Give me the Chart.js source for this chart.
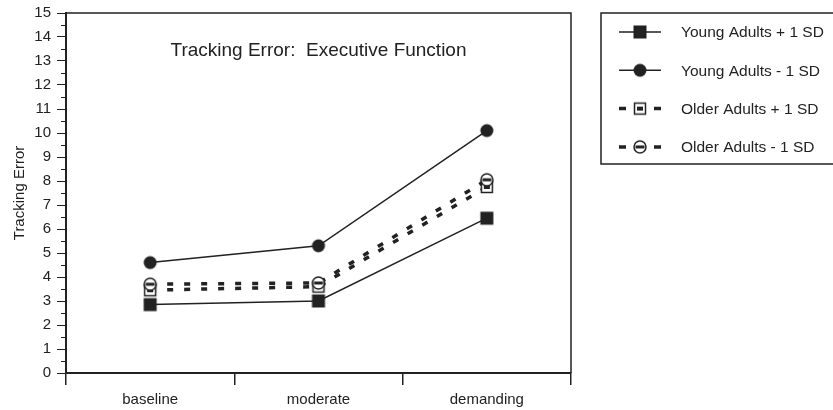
<!DOCTYPE html>
<html>
<head>
<meta charset="utf-8">
<script src="https://cdn.jsdelivr.net/npm/chart.js@4"></script>
<style>
  html, body { margin: 0; padding: 0; background: #fff; }
  #wrap { width: 833px; height: 410px; }
</style>
</head>
<body>
<div id="wrap"><canvas id="chart" width="833" height="410"></canvas></div>
<script>
// -----------------------
// DATA
// -----------------------
const categories = ['baseline', 'moderate', 'demanding'];
const seriesNames = ['Young Adults + 1 SD', 'Young Adults - 1 SD', 'Older Adults + 1 SD', 'Older Adults - 1 SD'];
const youngPlus = [2.85, 3.0, 6.45];
const youngMinus = [4.6, 5.3, 10.1];
const olderPlus = [3.45, 3.6, 7.75];
const olderMinus = [3.7, 3.75, 8.05];
const yTicks = [0, 1, 2, 3, 4, 5, 6, 7, 8, 9, 10, 11, 12, 13, 14, 15];

const INK = '#222';
const FONT = 'Arial, "Liberation Sans", sans-serif';

// -----------------------
// MARKERS
// -----------------------
function makeMarker(kind) {
    const s = 18;
    const c = document.createElement('canvas');
    c.width = s; c.height = s;
    const g = c.getContext('2d');
    const m = s / 2;
    g.fillStyle = INK;
    g.strokeStyle = INK;
    g.lineWidth = 1.5;
    if (kind === 'square') {
        g.fillRect(m - 6.5, m - 6.5, 13, 13);
    } else if (kind === 'circle') {
        g.beginPath(); g.arc(m, m, 6.5, 0, Math.PI * 2); g.fill();
    } else if (kind === 'boxDot') {
        g.fillStyle = '#fff';
        g.fillRect(m - 6, m - 6, 12, 12);
        g.strokeRect(m - 5.5, m - 5.5, 11, 11);
        g.fillStyle = INK;
        g.fillRect(m - 3, m - 2, 6, 4);
    } else if (kind === 'circleBar') {
        g.fillStyle = '#fff';
        g.beginPath(); g.arc(m, m, 6, 0, Math.PI * 2); g.fill(); g.stroke();
        g.fillStyle = INK;
        g.fillRect(m - 4.5, m - 1.5, 9, 3);
    }
    return c;
}

const markers = [makeMarker('square'), makeMarker('circle'), makeMarker('boxDot'), makeMarker('circleBar')];
const dashes = [[], [], [6, 11], [6, 11]];

// -----------------------
// PLUGINS
// -----------------------
const framePlugin = {
    id: 'frame',
    afterDraw(chart) {
        const ctx = chart.ctx;
        const a = chart.chartArea;
        const y = chart.scales.y;
        ctx.save();
        ctx.strokeStyle = INK;
        ctx.lineWidth = 1.5;
        ctx.beginPath();
        ctx.moveTo(a.left, a.top);
        ctx.lineTo(a.right, a.top);
        ctx.lineTo(a.right, a.bottom);
        ctx.stroke();

        // minor ticks on y
        ctx.lineWidth = 1;
        for (let i = 0; i < yTicks.length - 1; i++) {
            const py = Math.round(y.getPixelForValue(yTicks[i] + 0.5)) + 0.5;
            ctx.beginPath();
            ctx.moveTo(a.left - 5, py);
            ctx.lineTo(a.left, py);
            ctx.stroke();
        }

        // title inside plot
        ctx.fillStyle = INK;
        ctx.font = '19px ' + FONT;
        ctx.textAlign = 'center';
        ctx.textBaseline = 'middle';
        ctx.fillText('Tracking Error:  Executive Function', (a.left + a.right) / 2, 51);

        // legend
        const bx = 601, by = 13, bh = 151;
        ctx.lineWidth = 1.5;
        ctx.strokeRect(bx, by, 240, bh);
        ctx.font = '15.5px ' + FONT;
        ctx.textAlign = 'left';
        chart.data.datasets.forEach((ds, i) => {
            const ly = 32 + i * 38.3;
            ctx.save();
            ctx.lineWidth = ds.borderWidth;
            ctx.setLineDash(ds.borderDash.length ? [7, 28] : []);
            ctx.beginPath();
            ctx.moveTo(619, ly);
            ctx.lineTo(661, ly);
            ctx.stroke();
            ctx.restore();
            const img = ds.pointStyle;
            ctx.drawImage(img, 640 - img.width / 2, ly - img.height / 2);
            ctx.fillText(ds.label, 681, ly + 1);
        });
        ctx.restore();
    }
};

// -----------------------
// CHART
// -----------------------
const seriesData = [youngPlus, youngMinus, olderPlus, olderMinus];
const drawOrder = [0, 0, 2, 1];

const chart = new Chart(document.getElementById('chart'), {
    type: 'line',
    data: {
        labels: categories,
        datasets: seriesData.map((d, i) => ({
            label: seriesNames[i],
            data: d,
            borderColor: INK,
            borderWidth: i < 2 ? 1.5 : 3.5,
            borderDash: dashes[i],
            borderCapStyle: 'butt',
            pointStyle: markers[i],
            pointRadius: 7,
            tension: 0,
            fill: false,
            order: drawOrder[i]
        }))
    },
    options: {
        responsive: false,
        animation: false,
        layout: { padding: { left: 0, top: 13, right: 262, bottom: 0 } },
        plugins: {
            legend: { display: false },
            tooltip: { enabled: false },
            title: { display: false }
        },
        scales: {
            x: {
                type: 'category',
                offset: true,
                grid: { offset: true, drawOnChartArea: false, tickLength: 12, color: INK, lineWidth: 1.5 },
                border: { display: true, color: INK, width: 2 },
                ticks: { color: INK, font: { family: FONT, size: 15 }, padding: 6, maxRotation: 0 },
                afterFit(scale) { scale.height = 37; }
            },
            y: {
                min: 0,
                max: 15,
                grid: { drawOnChartArea: false, tickLength: 9, color: INK, lineWidth: 1 },
                border: { display: true, color: INK, width: 2 },
                ticks: { stepSize: 1, color: INK, font: { family: FONT, size: 15 }, padding: 6 },
                afterBuildTicks(scale) { scale.ticks = yTicks.map(v => ({ value: v })); },
                title: { display: true, text: 'Tracking Error', color: INK, font: { family: FONT, size: 15 }, padding: { top: 11, bottom: 0 } },
                afterFit(scale) {
                    scale.width = 66;
                    scale.paddingTop = 0;
                    scale.paddingBottom = 0;
                }
            }
        }
    },
    plugins: [framePlugin]
});
</script>
</body>
</html>
